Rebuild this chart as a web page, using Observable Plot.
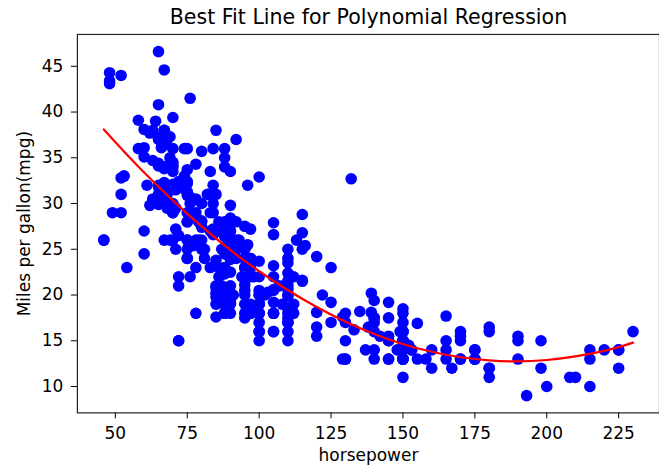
<!DOCTYPE html>
<html><head><meta charset="utf-8">
<script src="https://cdn.jsdelivr.net/npm/d3@7"></script>
<script src="https://cdn.jsdelivr.net/npm/@observablehq/plot@0.6"></script>
<style>html,body{margin:0;padding:0;background:#fff;overflow:hidden}</style>
</head><body><div id="chart"></div>
<script>
const titleText = "Best Fit Line for Polynomial Regression";
const xLabel = "horsepower";
const yLabel = "Miles per gallon(mpg)";
const xTicks = [50, 75, 100, 125, 150, 175, 200, 225];
const yTicks = [10, 15, 20, 25, 30, 35, 40, 45];

const horsepower = [
130,165,150,150,140,198,220,215,225,190,170,160,150,225,95,95,97,85,88,46,87,90,95,113,90,215,200,210,193,
88,90,95,100,105,100,88,100,165,175,153,150,180,170,175,110,72,100,88,86,90,70,76,65,69,60,70,
95,80,54,90,86,165,175,150,153,150,208,155,160,190,97,150,130,140,150,112,76,87,69,86,92,97,80,88,
175,150,145,137,150,198,150,158,150,215,225,175,105,100,100,88,95,46,150,167,170,180,100,88,72,94,90,85,107,90,145,230,49,75,91,112,150,110,122,180,
95,100,100,67,80,65,75,100,110,105,140,150,150,140,150,83,67,78,52,61,75,75,75,97,93,67,
95,105,72,72,170,145,150,148,110,105,110,95,110,110,129,75,83,100,78,96,71,97,97,70,90,95,88,98,115,53,86,81,92,79,83,
140,150,120,152,100,105,81,90,52,60,70,53,100,78,110,95,71,70,75,72,102,150,88,108,120,180,145,130,150,
68,80,58,96,70,145,110,145,130,110,105,100,98,180,170,190,149,78,88,75,89,63,83,67,78,97,110,110,
48,66,52,70,60,110,140,139,105,95,85,88,100,90,105,85,110,120,145,165,139,140,68,95,97,75,95,105,85,97,103,125,115,133,71,68,
115,85,88,90,110,130,129,138,135,155,142,125,150,71,65,80,80,77,125,71,90,70,70,65,69,90,115,115,90,
76,60,70,65,90,88,90,90,78,90,75,92,75,65,105,65,48,48,67,67,67,67,62,132,100,88,72,
84,84,92,110,84,58,64,60,67,65,62,68,63,65,65,74,75,75,100,74,80,76,116,120,110,105,88,85,
88,88,88,85,84,90,92,74,68,68,63,70,88,75,70,67,67,67,110,85,92,112,96,84,90,86,52,84,79,82
];
const mpg = [
18,15,18,16,17,15,14,14,14,15,15,14,15,14,24,22,18,21,27,26,25,24,25,26,21,10,10,11,9,
27,28,25,19,16,17,19,18,14,14,14,14,12,13,13,18,22,19,18,23,28,30,30,31,35,27,26,
24,25,23,20,21,13,14,15,14,17,11,13,12,13,19,15,13,13,14,18,22,21,26,22,28,23,28,27,
13,14,13,14,15,12,13,13,14,13,12,13,18,16,18,18,23,26,11,12,13,12,18,20,21,22,18,19,21,26,15,16,29,24,20,19,15,24,20,11,
20,19,15,31,26,32,25,16,16,18,16,13,14,14,14,29,26,26,31,32,28,24,26,24,26,31,
19,18,15,15,16,15,16,14,17,16,15,18,21,20,13,29,23,20,23,24,25,24,18,29,19,23,23,22,25,33,28,25,25,26,27,
17.5,16,15.5,14.5,22,22,24,22.5,29,24.5,29,33,20,18,18.5,17.5,29.5,32,28,26.5,20,13,19,19,16.5,16.5,13,13,13,
31.5,30,36,25.5,33.5,17.5,17,15.5,15,17.5,20.5,19,18.5,16,15.5,15.5,16,29,24.5,26,25.5,30.5,33.5,30,30.5,22,21.5,21.5,
43.1,36.1,32.8,39.4,36.1,19.9,19.4,20.2,19.2,20.5,20.2,25.1,20.5,19.4,20.6,20.8,18.6,18.1,19.2,17.7,18.1,17.5,30,27.5,27.2,30.9,21.1,23.2,23.8,23.9,20.3,17,21.6,16.2,31.5,29.5,
21.5,19.8,22.3,20.2,20.6,17,17.6,16.5,18.2,16.9,15.5,19.2,18.5,31.9,34.1,35.7,27.4,25.4,23,27.2,23.9,34.2,34.5,31.8,37.3,28.4,28.8,26.8,33.5,
41.5,38.1,32.1,37.2,28,26.4,24.3,19.1,34.3,29.8,31.3,37,32.2,46.6,27.9,40.8,44.3,43.4,36.4,30,44.6,33.8,29.8,32.7,23.7,35,32.4,
27.2,26.6,25.8,23.5,30,39.1,39,35.1,32.3,37,37.7,34.1,34.7,34.4,29.9,33,33.7,32.4,32.9,31.6,28.1,30.7,25.4,24.2,22.4,26.6,20.2,17.6,
28,27,34,31,29,27,24,36,37,31,38,36,36,36,34,38,32,38,25,38,26,22,32,36,27,27,44,32,28,31
];

// best-fit curve
const fitHp  = [46, 60, 80, 100, 120, 140, 160, 180, 200, 220, 230];
const fitMpg = [38.1, 33.4, 27.5, 22.6, 18.7, 15.75, 13.8, 12.85, 12.9, 13.9, 14.8];

const data = horsepower.map((h, i) => ({hp: h, mpg: mpg[i]}));
const fit = fitHp.map((h, i) => ({hp: h, mpg: fitMpg[i]}));

const chart = Plot.plot({
  width: 660, height: 466,
  marginLeft: 77, marginRight: 0, marginTop: 34, marginBottom: 53,
  style: {fontFamily: "DejaVu Sans", fontSize: "17px", color: "#000", background: "#fff", overflow: "visible"},
  x: {domain: [36.8, 239.2]},
  y: {domain: [7.12, 48.48]},
  marks: [
    Plot.dot(data, {x: "hp", y: "mpg", r: 5.8, fill: "#0000ff", stroke: null}),
    Plot.line(fit, {x: "hp", y: "mpg", stroke: "#ff0000", strokeWidth: 2.2, curve: "natural"}),
    Plot.frame({stroke: "#222", strokeWidth: 1.2}),
    Plot.axisX({ticks: xTicks, tickSize: 6, tickPadding: 8, label: null, fontSize: 17}),
    Plot.axisY({ticks: yTicks, tickSize: 6, tickPadding: 8, label: null, fontSize: 17}),
    Plot.text([xLabel], {frameAnchor: "bottom", lineAnchor: "bottom", textAnchor: "middle", dy: 48, fontSize: 17}),
    Plot.text([yLabel], {frameAnchor: "left", lineAnchor: "bottom", textAnchor: "middle", rotate: -90, dx: -47, fontSize: 17}),
    Plot.text([titleText], {frameAnchor: "top", lineAnchor: "bottom", textAnchor: "middle", dy: -10, fontSize: 20.6})
  ]
});
document.getElementById("chart").appendChild(chart);
</script>
</body></html>
